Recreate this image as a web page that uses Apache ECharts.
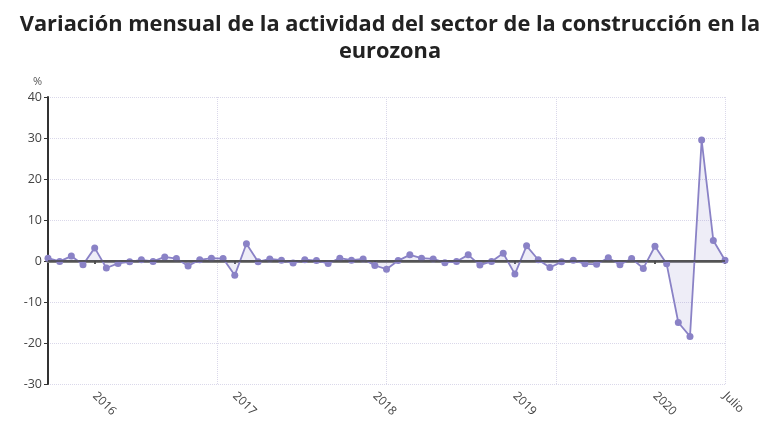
<!DOCTYPE html>
<html>
<head>
<meta charset="utf-8">
<script src="https://cdn.jsdelivr.net/npm/echarts@6/dist/echarts.min.js"></script>
<style>
  html, body { margin: 0; padding: 0; background: #fff; }
  #chart { width: 780px; height: 440px; }
</style>
</head>
<body>
<div id="chart"></div>
<script>
// meses (sep 2015 - jul 2020)
var months = [
  '2015-09','2015-10','2015-11','2015-12',
  '2016-01','2016-02','2016-03','2016-04','2016-05','2016-06','2016-07','2016-08','2016-09','2016-10','2016-11','2016-12',
  '2017-01','2017-02','2017-03','2017-04','2017-05','2017-06','2017-07','2017-08','2017-09','2017-10','2017-11','2017-12',
  '2018-01','2018-02','2018-03','2018-04','2018-05','2018-06','2018-07','2018-08','2018-09','2018-10','2018-11','2018-12',
  '2019-01','2019-02','2019-03','2019-04','2019-05','2019-06','2019-07','2019-08','2019-09','2019-10','2019-11','2019-12',
  '2020-01','2020-02','2020-03','2020-04','2020-05','2020-06','2020-07'
];
// variación mensual (%)
var variacion = [
  0.7, -0.1, 1.2, -0.9,
  3.2, -1.7, -0.6, -0.2, 0.3, -0.1, 1.0, 0.6, -1.2, 0.3, 0.7, 0.6,
  -3.5, 4.2, -0.2, 0.5, 0.2, -0.5, 0.3, 0.1, -0.6, 0.7, 0.2, 0.5,
  -1.1, -2.0, 0.1, 1.5, 0.7, 0.5, -0.4, -0.1, 1.5, -1.0, -0.1, 1.9,
  -3.2, 3.7, 0.3, -1.6, -0.2, 0.2, -0.7, -0.8, 0.8, -0.9, 0.6, -1.8,
  3.6, -0.7, -15.0, -18.4, 29.5, 5.0, 0.2
];
// etiquetas del eje x
var tickLabels = {
  '2016-01': '2016', '2017-01': '2017', '2018-01': '2018',
  '2019-01': '2019', '2020-01': '2020', '2020-07': 'Julio'
};

var purple = '#8a82c6';
var gridColor = '#dad8ea';

function showTick(index, value) {
  return tickLabels[months[index]] !== undefined;
}

var myChart = echarts.init(document.getElementById('chart'));

myChart.setOption({
  animation: false,
  title: {
    text: 'Variación mensual de la actividad del sector de la construcción en la\neurozona',
    left: 'center',
    top: 6,
    textStyle: {
      fontFamily: 'Open Sans',
      fontSize: 21.8,
      fontWeight: 'bold',
      color: '#222',
      lineHeight: 27
    }
  },
  grid: { left: 48, right: 55, top: 97, bottom: 56 },
  xAxis: [
    {
      type: 'category',
      data: months,
      boundaryGap: false,
      offset: 4,
      axisLine: { lineStyle: { color: '#808080', width: 3 } },
      axisTick: { interval: showTick, length: 3, lineStyle: { color: '#555', width: 2 } },
      axisLabel: {
        interval: showTick,
        rotate: -45,
        color: '#444',
        fontFamily: 'Open Sans',
        fontSize: 12,
        margin: 6,
        formatter: function (v) { return tickLabels[v] || ''; }
      },
      splitLine: { show: false }
    },
    {
      // líneas verticales de la cuadrícula
      type: 'value',
      position: 'top',
      min: 0,
      max: 4,
      interval: 1,
      axisLine: { show: false },
      axisTick: { show: false },
      axisLabel: { show: false },
      splitLine: { show: true, lineStyle: { color: gridColor, type: 'dotted', width: 1 } }
    }
  ],
  yAxis: {
    type: 'value',
    min: -30,
    max: 40,
    interval: 10,
    name: '%',
    nameGap: 10,
    nameTextStyle: { color: '#555', fontFamily: 'Open Sans', fontSize: 11, align: 'right', padding: [0, 6, 0, 0] },
    axisLine: { show: true, lineStyle: { color: '#333', width: 2 } },
    axisTick: { show: true, length: 4, lineStyle: { color: '#333' } },
    axisLabel: { color: '#444', fontFamily: 'Open Sans', fontSize: 12.5, margin: 6 },
    splitLine: { show: true, lineStyle: { color: gridColor, type: 'dotted', width: 1 } }
  },
  series: [
    {
      type: 'line',
      data: variacion,
      symbol: 'circle',
      symbolSize: 7,
      itemStyle: { color: purple },
      lineStyle: { color: purple, width: 1.8 },
      areaStyle: { color: 'rgba(138,130,198,0.2)' },
      markLine: {
        silent: true,
        symbol: 'none',
        label: { show: false },
        lineStyle: { color: '#444', type: 'solid', width: 1.5 },
        data: [{ yAxis: 0 }]
      }
    }
  ]
});
</script>
</body>
</html>
